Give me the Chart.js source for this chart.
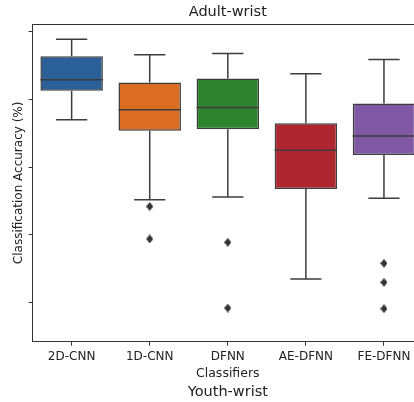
<!DOCTYPE html>
<html>
<head>
<meta charset="utf-8">
<script src="https://cdn.jsdelivr.net/npm/chart.js@4/dist/chart.umd.min.js"></script>
<style>
  html, body { margin: 0; padding: 0; background: #fff; overflow: hidden; width: 414px; height: 402px; }
  #wrap { position: absolute; left: 0; top: 0; width: 428px; height: 402px; }
</style>
</head>
<body>
<div id="wrap"><canvas id="c" width="428" height="402"></canvas></div>
<script>
const categories = ['2D-CNN', '1D-CNN', 'DFNN', 'AE-DFNN', 'FE-DFNN'];
const whiskerLow  = [87.0, 75.2, 75.6, 63.5, 75.4];
const q1          = [91.3, 85.4, 85.6, 76.8, 81.8];
const median      = [92.9, 88.5, 88.8, 82.5, 84.6];
const q3          = [96.4, 92.5, 93.1, 86.5, 89.4];
const whiskerHigh = [98.9, 96.6, 96.8, 93.8, 95.9];
const outliers = [
  [],
  [74.2, 69.4],
  [68.9, 59.2],
  [],
  [65.8, 63.0, 59.1]
];
const yTicks = [60, 70, 80, 90, 100];
const boxColors = ['#2b6198', '#da6d21', '#2e842e', '#b02630', '#8058a5'];
const lineColor = '#3d3d3d';
const FONT = "'DejaVu Sans', sans-serif";

// thin diamond marker (matplotlib 'd')
const marker = document.createElement('canvas');
marker.width = 7; marker.height = 9;
(function(){
  const m = marker.getContext('2d');
  m.fillStyle = '#333';
  m.beginPath();
  m.moveTo(3.5, 0); m.lineTo(7, 4.5); m.lineTo(3.5, 9); m.lineTo(0, 4.5); m.closePath();
  m.fill();
})();

const outlierPoints = [];
outliers.forEach((arr, i) => arr.forEach(v => outlierPoints.push({ x: categories[i], y: v })));

const boxPlugin = {
  id: 'boxExtras',
  afterDatasetsDraw(chart) {
    const ctx = chart.ctx;
    const ys = chart.scales.y;
    const meta = chart.getDatasetMeta(0);
    const area = chart.chartArea;
    ctx.save();
    ctx.strokeStyle = lineColor;
    ctx.lineWidth = 1.5;
    meta.data.forEach((bar, i) => {
      const x = bar.x;
      const w = bar.width;
      const cap = w / 4;
      const yLo = ys.getPixelForValue(whiskerLow[i]);
      const yQ1 = ys.getPixelForValue(q1[i]);
      const yMed = ys.getPixelForValue(median[i]);
      const yQ3 = ys.getPixelForValue(q3[i]);
      const yHi = ys.getPixelForValue(whiskerHigh[i]);
      ctx.beginPath();
      ctx.moveTo(x, yQ3); ctx.lineTo(x, yHi);
      ctx.moveTo(x - cap, yHi); ctx.lineTo(x + cap, yHi);
      ctx.moveTo(x, yQ1); ctx.lineTo(x, yLo);
      ctx.moveTo(x - cap, yLo); ctx.lineTo(x + cap, yLo);
      ctx.moveTo(x - w / 2, yMed); ctx.lineTo(x + w / 2, yMed);
      ctx.stroke();
    });
    // top spine
    ctx.strokeStyle = '#333';
    ctx.lineWidth = 1;
    ctx.beginPath();
    ctx.moveTo(area.left, area.top + 0.5);
    ctx.lineTo(area.right, area.top + 0.5);
    ctx.stroke();
    ctx.restore();
  }
};

new Chart(document.getElementById('c'), {
  type: 'bar',
  data: {
    labels: categories,
    datasets: [
      {
        label: 'box',
        data: categories.map((c, i) => [q1[i], q3[i]]),
        backgroundColor: boxColors,
        borderColor: lineColor,
        borderWidth: 1.5,
        borderSkipped: false,
        barPercentage: 0.8,
        categoryPercentage: 1.0,
        grouped: false,
        order: 2
      },
      {
        type: 'scatter',
        label: 'outliers',
        data: outlierPoints,
        pointStyle: marker,
        pointRadius: 4,
        backgroundColor: lineColor,
        borderColor: lineColor,
        order: 1
      }
    ]
  },
  options: {
    responsive: false,
    animation: false,
    devicePixelRatio: 1,
    layout: { padding: 0 },
    plugins: {
      legend: { display: false },
      tooltip: { enabled: false },
      title: {
        display: true,
        text: 'Adult-wrist',
        fullSize: false,
        color: '#222',
        font: { family: FONT, size: 14.5, weight: 'normal' },
        padding: { top: 3.3, bottom: 3.3 }
      },
      subtitle: {
        display: true,
        text: 'Youth-wrist',
        position: 'bottom',
        fullSize: false,
        color: '#222',
        font: { family: FONT, size: 14.5, weight: 'normal' },
        padding: { top: 0, bottom: 1 }
      }
    },
    scales: {
      x: {
        type: 'category',
        offset: true,
        grid: { display: true, drawOnChartArea: false, drawTicks: true, tickLength: 4, offset: false, color: '#333', lineWidth: 1 },
        border: { display: true, color: '#333', width: 1 },
        ticks: { color: '#222', font: { family: FONT, size: 12 }, padding: 3.8, maxRotation: 0 },
        title: { display: true, text: 'Classifiers', color: '#222', font: { family: FONT, size: 12.5 }, padding: { top: 0, bottom: 2.8 } },
        afterFit(s) { s.height = 41.9; }
      },
      y: {
        type: 'linear',
        min: 54.23,
        max: 101.15,
        afterBuildTicks(s) { s.ticks = yTicks.map(v => ({ value: v })); },
        grid: { display: true, drawOnChartArea: false, drawTicks: true, tickLength: 4, color: '#333', lineWidth: 1 },
        border: { display: true, color: '#333', width: 1 },
        ticks: { display: false },
        title: { display: true, text: 'Classification Accuracy (%)', color: '#222', font: { family: FONT, size: 12 }, padding: { top: 11.5, bottom: 0 } },
        afterFit(s) { s.width = 32.6; }
      }
    }
  },
  plugins: [boxPlugin]
});
</script>
</body>
</html>
